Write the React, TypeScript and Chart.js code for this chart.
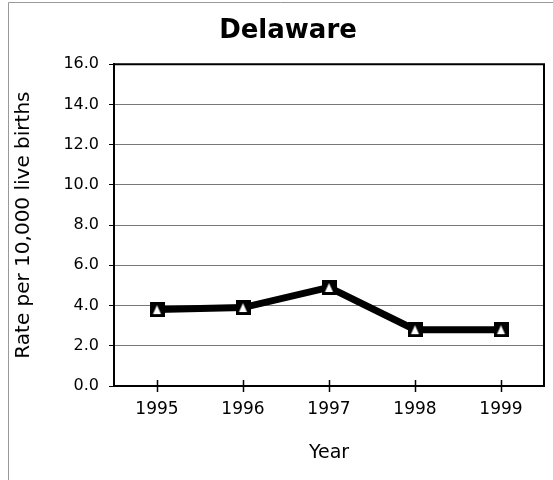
import React, { useEffect, useRef } from "react";
import { Chart, registerables } from "chart.js";

Chart.register(...registerables);

const years = ["1995", "1996", "1997", "1998", "1999"];
const rates = [3.8, 3.9, 4.9, 2.8, 2.8];
const chartTitle = "Delaware";
const yTitle = "Rate per 10,000 live births";
const xTitle = "Year";
const yMin = 0;
const yMax = 16;
const yStep = 2;

const FONT = "'DejaVu Sans', 'Liberation Sans', Arial, sans-serif";

function makeMarker(): HTMLCanvasElement {
  const c = document.createElement("canvas");
  const s = 15;
  c.width = s;
  c.height = s;
  const g = c.getContext("2d")!;
  g.fillStyle = "#000";
  g.fillRect(0, 0, s, s);
  g.fillStyle = "#fff";
  g.beginPath();
  g.moveTo(s / 2, 3);
  g.lineTo(s - 3.5, s - 3);
  g.lineTo(3.5, s - 3);
  g.closePath();
  g.fill();
  return c;
}

const framePlugin = {
  id: "frameAndBorder",
  afterLayout(chart: any) {
    const tb = chart.titleBlock;
    if (tb) {
      tb.left += 12;
      tb.right += 12;
    }
  },
  beforeDraw(chart: any) {
    const ctx = chart.ctx;
    ctx.save();
    ctx.fillStyle = "#fff";
    ctx.fillRect(0, 0, chart.width, chart.height);
    ctx.strokeStyle = "#999";
    ctx.lineWidth = 1;
    ctx.beginPath();
    ctx.moveTo(8.5, chart.height);
    ctx.lineTo(8.5, 2.5);
    ctx.lineTo(chart.width, 2.5);
    ctx.stroke();
    ctx.restore();
  },
  beforeDatasetsDraw(chart: any) {
    const { ctx, chartArea } = chart;
    ctx.save();
    ctx.strokeStyle = "#000";
    ctx.lineWidth = 2;
    ctx.beginPath();
    ctx.moveTo(chartArea.left, chartArea.top);
    ctx.lineTo(chartArea.right, chartArea.top);
    ctx.lineTo(chartArea.right, chartArea.bottom);
    ctx.stroke();
    // upper halves of the "+" tick marks on the x axis
    const xs = chart.scales.x;
    ctx.lineWidth = 1.5;
    ctx.beginPath();
    for (let i = 0; i < xs.ticks.length; i++) {
      const px = Math.round(xs.getPixelForTick(i)) + 0.5;
      ctx.moveTo(px, chartArea.bottom);
      ctx.lineTo(px, chartArea.bottom - 6);
    }
    ctx.stroke();
    ctx.restore();
  },
};

export default function App() {
  const ref = useRef<HTMLCanvasElement | null>(null);

  useEffect(() => {
    document.body.style.margin = "0";
    const canvas = ref.current!;
    const marker = makeMarker();
    const chart = new Chart(canvas, {
      type: "line",
      data: {
        labels: years,
        datasets: [
          {
            data: rates,
            borderColor: "#000",
            backgroundColor: "#000",
            borderWidth: 7,
            pointStyle: marker as any,
            pointRadius: 7,
            tension: 0,
          },
        ],
      },
      options: {
        animation: false,
        responsive: false,
        devicePixelRatio: 1,
        layout: { autoPadding: false, padding: { left: 8, right: 9, top: 0, bottom: 0 } },
        plugins: {
          legend: { display: false },
          tooltip: { enabled: false },
          title: {
            display: true,
            text: chartTitle,
            color: "#000",
            font: { family: FONT, size: 26, weight: "bold" },
            padding: { top: 16, bottom: 17 },
          },
        },
        scales: {
          x: {
            type: "category",
            offset: true,
            grid: {
              display: true,
              offset: false,
              drawOnChartArea: false,
              drawTicks: true,
              tickLength: 6,
              tickColor: "#000",
              tickWidth: 1.5,
            },
            border: { display: true, color: "#000", width: 2 },
            ticks: {
              color: "#000",
              font: { family: FONT, size: 17 },
              padding: 7,
              maxRotation: 0,
            },
            title: {
              display: true,
              text: xTitle,
              color: "#000",
              font: { family: FONT, size: 19 },
              padding: { top: 4, bottom: 16 },
            },
            afterFit(scale: any) {
              scale.height = 94;
              scale.paddingLeft = 0;
              scale.paddingRight = 0;
            },
          },
          y: {
            min: yMin,
            max: yMax,
            grid: {
              color: "#777",
              lineWidth: 1,
              tickLength: 5,
              tickColor: "#000",
            },
            border: { display: true, color: "#000", width: 2 },
            ticks: {
              stepSize: yStep,
              color: "#000",
              padding: 10,
              font: { family: FONT, size: 16 },
              callback: (v: any) => Number(v).toFixed(1),
            },
            title: {
              display: true,
              text: yTitle,
              color: "#000",
              font: { family: FONT, size: 20 },
              padding: { top: 4, bottom: 4 },
            },
            afterFit(scale: any) {
              scale.width = 106;
            },
          },
        },
      },
      plugins: [framePlugin],
    });
    return () => chart.destroy();
  }, []);

  return (
    <canvas
      ref={ref}
      width={553}
      height={480}
      style={{ display: "block", width: 553, height: 480 }}
    />
  );
}
